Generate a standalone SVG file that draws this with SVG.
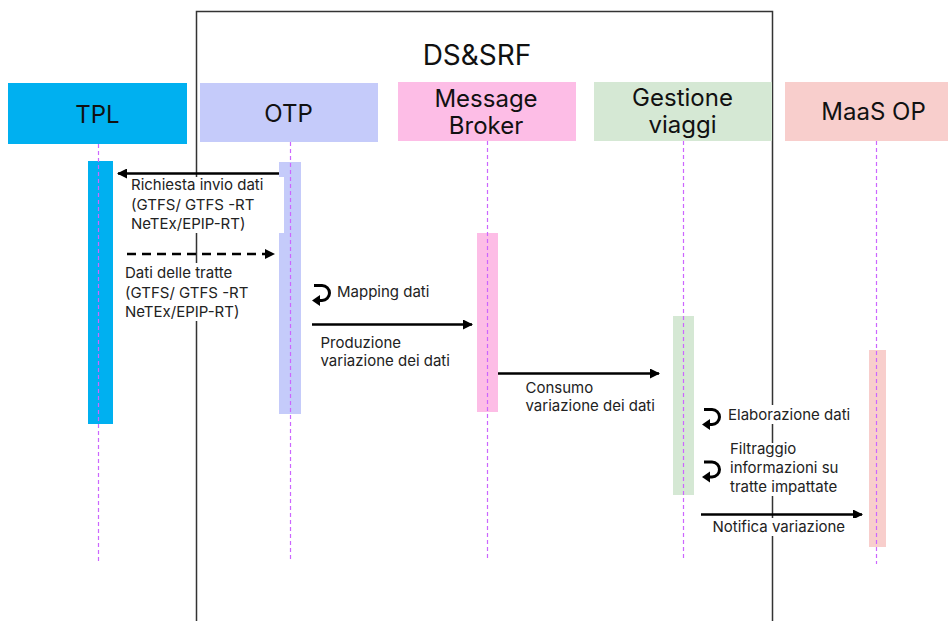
<svg xmlns="http://www.w3.org/2000/svg" width="948" height="621" viewBox="0 0 948 621">
<defs>
<style>
.hdr{font-family:Inter,"Noto Sans","Liberation Sans",sans-serif;font-size:24px;fill:#111;text-anchor:middle}
.lbl{font-family:Inter,"Noto Sans","Liberation Sans",sans-serif;font-size:15px;fill:#222}
.life{stroke:#CC66FF;stroke-width:1.2;stroke-dasharray:4,3;fill:none}
.msg{stroke:#000;stroke-width:2.5;fill:none}
.bg{fill:#fff}
.loop{stroke:#000;stroke-width:3;fill:none}
</style>
<marker id="ah" viewBox="0 0 10 10" refX="9" refY="5" markerWidth="4.4" markerHeight="4" orient="auto" markerUnits="strokeWidth">
<path d="M0,0 L10,5 L0,10 z" fill="#000"/>
</marker>
</defs>
<rect width="948" height="621" fill="#fff"/>
<g id="ds-srf">
<path d="M196.5,625 V11.5 H772.5 V625" fill="none" stroke="#333" stroke-width="1.5"/>
<text x="477" y="64.5" class="hdr" style="font-size:28px">DS&amp;SRF</text>
</g>
<g id="tpl">
<rect x="8" y="83" width="179" height="61" fill="#00B0F0"/>
<text x="97.5" y="122.5" class="hdr">TPL</text>
<rect x="88" y="161" width="25" height="263" fill="#00B0F0"/>
<line x1="98.5" y1="144" x2="98.5" y2="562" class="life"/>
</g>
<g id="otp">
<rect x="200" y="83" width="178" height="59" fill="#C5CBFA"/>
<text x="288.5" y="122" class="hdr">OTP</text>
<rect x="279" y="162" width="22" height="252" fill="#C5CBFA"/>
<line x1="290.5" y1="142" x2="290.5" y2="562" class="life"/>
</g>
<g id="message-broker">
<rect x="398" y="82" width="178" height="59" fill="#FDBDE6"/>
<text x="486" y="106.5" class="hdr">Message</text>
<text x="486" y="134" class="hdr">Broker</text>
<rect x="477" y="233" width="21" height="179" fill="#FDBDE6"/>
<line x1="487.5" y1="141" x2="487.5" y2="560" class="life"/>
</g>
<g id="gestione-viaggi">
<rect x="594" y="82" width="178" height="59" fill="#D5E8D4"/>
<text x="682.5" y="106" class="hdr">Gestione</text>
<text x="682.5" y="133" class="hdr">viaggi</text>
<rect x="673" y="316" width="21" height="179" fill="#D5E8D4"/>
<line x1="683.5" y1="141" x2="683.5" y2="560" class="life"/>
</g>
<g id="maas-op">
<rect x="785" y="82" width="178" height="59" fill="#F8CECC"/>
<text x="873.5" y="120" class="hdr">MaaS OP</text>
<rect x="869" y="350" width="17" height="197" fill="#F8CECC"/>
<line x1="876.5" y1="141" x2="876.5" y2="564" class="life"/>
</g>
<g id="connectors">
<line x1="279" y1="173.5" x2="118" y2="173.5" class="msg" marker-end="url(#ah)"/>
<line x1="127" y1="254" x2="274" y2="254" class="msg" stroke-dasharray="9,6" marker-end="url(#ah)"/>
<line x1="312" y1="324.5" x2="472" y2="324.5" class="msg" marker-end="url(#ah)"/>
<line x1="498" y1="373.5" x2="659" y2="373.5" class="msg" marker-end="url(#ah)"/>
<line x1="701" y1="514.5" x2="862" y2="514.5" class="msg" marker-end="url(#ah)"/>
<path d="M314,285.5 H322 A7.5,7.5 0 0 1 322,300.5 H319" class="loop"/>
<path d="M320,295 L312,300.5 L320,306 z" fill="#000"/>
<path d="M704,409.5 H712 A7.5,7.5 0 0 1 712,424.5 H709" class="loop"/>
<path d="M710,419 L702,424.5 L710,430 z" fill="#000"/>
<path d="M704,462 H712 A7.5,7.5 0 0 1 712,477 H709" class="loop"/>
<path d="M710,471.5 L702,477 L710,482.5 z" fill="#000"/>
</g>
<g id="labels">
<rect x="129" y="177" width="155" height="56" class="bg"/>
<text class="lbl"><tspan x="131" y="190">Richiesta invio dati</tspan><tspan x="131" y="210">(GTFS/ GTFS -RT</tspan><tspan x="131" y="229">NeTEx/EPIP-RT)</tspan></text>
<rect x="123" y="263" width="150" height="58" class="bg"/>
<text class="lbl"><tspan x="125" y="278">Dati delle tratte</tspan><tspan x="125" y="297.5">(GTFS/ GTFS -RT</tspan><tspan x="125" y="316.5">NeTEx/EPIP-RT)</tspan></text>
<text x="337" y="297" class="lbl">Mapping dati</text>
<text class="lbl"><tspan x="320.5" y="348">Produzione</tspan><tspan x="320.5" y="366">variazione dei dati</tspan></text>
<text class="lbl"><tspan x="525.5" y="392.5">Consumo</tspan><tspan x="525.5" y="410.5">variazione dei dati</tspan></text>
<rect x="727" y="405" width="137" height="19" class="bg"/>
<text x="728" y="420" class="lbl">Elaborazione dati</text>
<rect x="727" y="443" width="137" height="53" class="bg"/>
<text class="lbl"><tspan x="730" y="454">Filtraggio</tspan><tspan x="730" y="473">informazioni su</tspan><tspan x="730" y="491.5">tratte impattate</tspan></text>
<rect x="710" y="518" width="154" height="18" class="bg"/>
<text x="712.5" y="531.5" class="lbl">Notifica variazione</text>
</g>
</svg>
